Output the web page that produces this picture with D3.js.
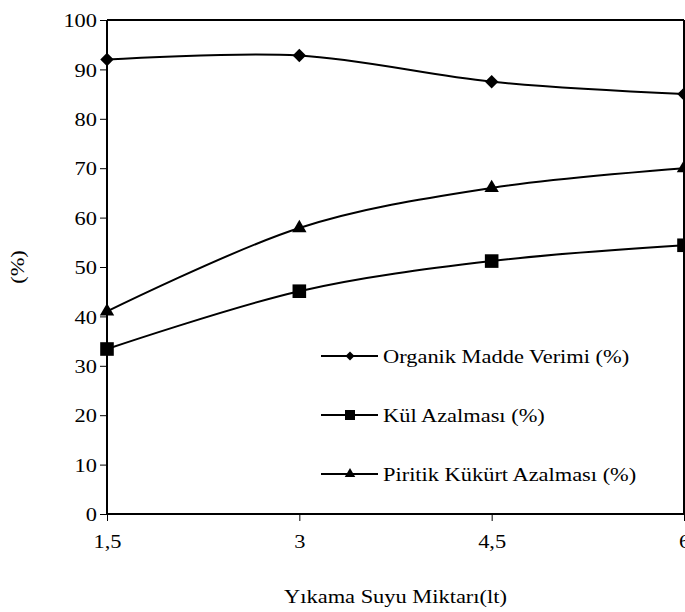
<!DOCTYPE html>
<html>
<head>
<meta charset="utf-8">
<script src="https://cdn.jsdelivr.net/npm/d3@7"></script>
<style>
  html, body { margin: 0; padding: 0; background: #fff; }
  svg { display: block; }
  svg text { font-family: "Liberation Serif", Tinos, "Times New Roman", serif; fill: #000; }
</style>
</head>
<body>
<svg id="chart" width="685" height="612"></svg>
<script>
// Wash water volume (lt) and the three measured responses (%)
const waterVolume = [1.5, 3, 4.5, 6];
const xTickLabels = ["1,5", "3", "4,5", "6"];
const yTicks = [0, 10, 20, 30, 40, 50, 60, 70, 80, 90, 100];

const organicYield = [92.0, 92.8, 87.5, 85.0];
const ashReduction = [33.4, 45.1, 51.2, 54.4];
const pyriticSulfurReduction = [41.0, 57.9, 66.0, 70.0];

const seriesNames = [
  "Organik Madde Verimi (%)",
  "Kül Azalması (%)",
  "Piritik Kükürt Azalması (%)"
];

const width = 685, height = 612;
const margin = { top: 20, right: 1, bottom: 98, left: 107 };
const plotW = width - margin.left - margin.right;
const plotH = height - margin.top - margin.bottom;
const stretch = 1.18; // wide serif lettering
const fontFamily = '"Liberation Serif", Tinos, "Times New Roman", serif';

const svg = d3.select("#chart");
const g = svg.append("g").attr("transform", `translate(${margin.left},${margin.top})`);

const x = d3.scaleLinear().domain([1.5, 6]).range([0, plotW]);
const y = d3.scaleLinear().domain([0, 100]).range([plotH, 0]);

// Custom diamond (rotated square) symbol
const diamond = {
  draw(ctx, size) {
    const r = Math.sqrt(size) / 2;
    ctx.moveTo(0, -r); ctx.lineTo(r, 0); ctx.lineTo(0, r); ctx.lineTo(-r, 0); ctx.closePath();
  }
};
const symbols = [diamond, d3.symbolSquare, d3.symbolTriangle];
const markerSizes = [180, 185, 90];
const legendSizes = [80, 100, 48];

const series = [organicYield, ashReduction, pyriticSulfurReduction].map((vals, i) => ({
  name: seriesNames[i],
  symbol: symbols[i],
  size: markerSizes[i],
  legendSize: legendSizes[i],
  points: waterVolume.map((w, j) => ({ x: w, y: vals[j] }))
}));

// Plot frame: top and right border
g.append("line").attr("x1", 0).attr("x2", plotW).attr("y1", 0).attr("y2", 0)
  .attr("stroke", "#000").attr("stroke-width", 2);
g.append("line").attr("x1", plotW).attr("x2", plotW).attr("y1", 0).attr("y2", plotH)
  .attr("stroke", "#000").attr("stroke-width", 2);

// Axes
const yAxis = g.append("g").call(d3.axisLeft(y).tickValues(yTicks).tickSize(7).tickFormat(d3.format("d")));
const xAxis = g.append("g").attr("transform", `translate(0,${plotH})`)
  .call(d3.axisBottom(x).tickValues(waterVolume).tickSize(7).tickFormat((d, i) => xTickLabels[i]));

[yAxis, xAxis].forEach(ax => {
  ax.attr("font-family", fontFamily);
  ax.select(".domain").attr("stroke", "#000").attr("stroke-width", 2);
  ax.selectAll(".tick line").attr("stroke", "#000").attr("stroke-width", 1);
  ax.selectAll(".tick text").attr("font-size", 19).attr("font-family", fontFamily).attr("fill", "#000");
});
// plain axis lines without outer ticks
yAxis.select(".domain").attr("d", `M0,${plotH}V0`);
xAxis.select(".domain").attr("d", `M0,0H${plotW}`);

yAxis.selectAll(".tick text")
  .attr("x", 0).attr("dy", "0.35em")
  .attr("transform", `translate(-10,0) scale(${stretch},1)`);
xAxis.selectAll(".tick text")
  .attr("y", 0).attr("dy", "0.71em")
  .attr("transform", `translate(0,20) scale(${stretch},1)`);

// Series lines (smoothed) and markers
const line = d3.line().x(d => x(d.x)).y(d => y(d.y)).curve(d3.curveCardinal.tension(0));
series.forEach(s => {
  g.append("path").datum(s.points).attr("d", line)
    .attr("fill", "none").attr("stroke", "#000").attr("stroke-width", 2);
  g.selectAll(null).data(s.points).enter().append("path")
    .attr("d", d3.symbol().type(s.symbol).size(s.size))
    .attr("transform", d => `translate(${x(d.x)},${y(d.y)})`)
    .attr("fill", "#000");
});

// Legend
const legend = svg.append("g").attr("transform", "translate(321,356)");
series.forEach((s, i) => {
  const row = legend.append("g").attr("transform", `translate(0,${i * 59})`);
  row.append("line").attr("x1", 0).attr("x2", 57).attr("y1", 0).attr("y2", 0)
    .attr("stroke", "#000").attr("stroke-width", 2);
  row.append("path").attr("d", d3.symbol().type(s.symbol).size(s.legendSize))
    .attr("transform", "translate(29,0)").attr("fill", "#000");
  row.append("text").attr("font-size", 19).attr("font-family", fontFamily).attr("dy", "0.35em")
    .attr("transform", `translate(62,0) scale(${stretch},1)`)
    .text(s.name);
});

// Axis titles
svg.append("text").attr("font-size", 19).attr("font-family", fontFamily).attr("text-anchor", "middle")
  .attr("transform", `translate(${margin.left + plotW / 2},603) scale(${stretch},1)`)
  .text("Yıkama Suyu Miktarı(lt)");
svg.append("text").attr("font-size", 19).attr("font-family", fontFamily).attr("text-anchor", "middle")
  .attr("transform", `translate(24,${margin.top + plotH / 2}) rotate(-90) scale(${stretch},1)`)
  .text("(%)");
</script>
</body>
</html>
